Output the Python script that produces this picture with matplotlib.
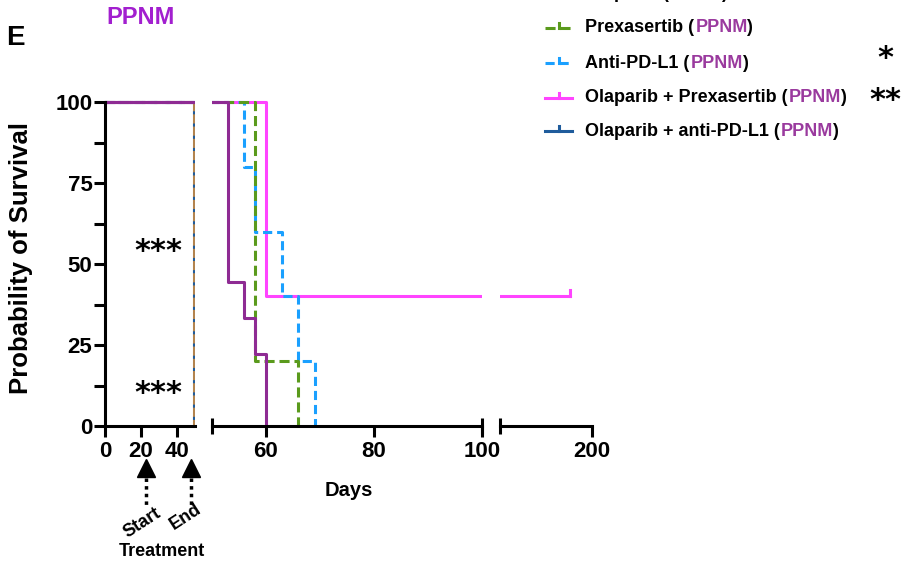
import matplotlib
matplotlib.use("Agg")
import matplotlib.pyplot as plt
import matplotlib.transforms as mtransforms
from matplotlib.lines import Line2D
from matplotlib.patches import Rectangle

plt.rcParams['font.family'] = ['Liberation Sans', 'DejaVu Sans']
plt.rcParams['font.weight'] = 'bold'
plt.rcParams['axes.labelweight'] = 'bold'

# Kaplan-Meier steps (days, % surviving)
vehicle_days = [0, 53, 56, 58, 60]
vehicle_surv = [100, 44.4, 33.3, 22.2, 0]
olaparib_days = [0, 49.5]
olaparib_surv = [100, 0]
prex_days = [0, 58, 66]
prex_surv = [100, 20, 0]
pdl1_days = [0, 56, 58, 63, 66, 69]
pdl1_surv = [100, 80, 60, 40, 20, 0]
olap_prex_days = [0, 60, 176]
olap_prex_surv = [100, 40, 40]
olap_pdl1_days = [0, 49.5]
olap_pdl1_surv = [100, 0]

# censored points
censor_days = [176]
censor_surv = [40]

legend_names = ["Olaparib", "Prexasertib", "Anti-PD-L1",
                "Olaparib + Prexasertib", "Olaparib + anti-PD-L1"]
legend_stars = ["", "", "*", "**", ""]

PURPLE = '#8e2b93'
BROWN = '#b3844f'
DKBLUE = '#1f5c9c'
GREEN = '#5a9a1c'
LTBLUE = '#1aa0ff'
MAGENTA = '#ff44ff'
TXTPURPLE = '#9a3a9e'

W, H = 903, 566
fig = plt.figure(figsize=(W / 100, H / 100), dpi=100)


def fx(px):
    return px / W


def fy(py):
    return 1 - py / H


bottom = fy(426)
height = 324 / H
ax1 = fig.add_axes([fx(105), bottom, 90 / W, height])
ax2 = fig.add_axes([fx(212), bottom, 270 / W, height])
ax3 = fig.add_axes([fx(500), bottom, 92 / W, height])

series = [
    (olaparib_days, olaparib_surv, BROWN, '-'),
    (olap_pdl1_days, olap_pdl1_surv, DKBLUE, (0, (1, 3))),
    (olap_prex_days, olap_prex_surv, MAGENTA, '-'),
    (pdl1_days, pdl1_surv, LTBLUE, (0, (3, 1.6))),
    (prex_days, prex_surv, GREEN, (0, (3.3, 1.6))),
    (vehicle_days, vehicle_surv, PURPLE, '-'),
]

lw = 2.2
for ax, xl in [(ax1, (0, 50)), (ax2, (50, 100)), (ax3, (100, 200))]:
    clip = Rectangle((0, -0.05), 1, 1.1, transform=ax.transAxes)
    for d, s, c, ls in series:
        ln, = ax.step(d, s, where='post', color=c, lw=lw, linestyle=ls)
        ln.set_clip_path(clip)
    cen, = ax.plot([censor_days[0], censor_days[0]], [censor_surv[0], censor_surv[0] + 2],
                   color=MAGENTA, lw=lw)
    cen.set_clip_path(clip)
    ax.set_xlim(*xl)
    ax.set_ylim(0, 100)
    for sp in ['top', 'right']:
        ax.spines[sp].set_visible(False)
    for sp in ['left', 'bottom']:
        ax.spines[sp].set_linewidth(2.2)
    ax.tick_params(direction='out', length=8, width=2.2, labelsize=16, pad=3)
    ax.set_facecolor('none')

ax1.set_xticks([0, 20, 40])
ax1.set_yticks([0, 25, 50, 75, 100])
ax1.set_yticks([12.5, 37.5, 62.5, 87.5], minor=True)
ax1.tick_params(axis='y', which='both', length=8, width=2.2, pad=1)
ax1.set_ylabel('Probability of Survival', fontsize=18.5, fontweight='bold')
ax1.yaxis.set_label_coords(-0.8, 0.52)

ax2.spines['left'].set_visible(False)
ax2.set_yticks([])
ax2.set_xticks([60, 80, 100])
ax3.spines['left'].set_visible(False)
ax3.set_yticks([])
ax3.set_xticks([200])

# break caps on the x axis
for ax, xv in [(ax2, 50), (ax2, 100), (ax3, 100)]:
    ax.plot([xv], [0], marker='|', markersize=12, mew=2.2, color='black', clip_on=False)

# significance stars inside the plot
for yv in [54, 10]:
    ax1.text(29.5, yv, '***', ha='center', va='center', fontsize=22, family='DejaVu Sans',
             fontweight='bold')

fig.text(fx(349), fy(490), 'Days', ha='center', va='center', fontsize=14.5)
fig.text(fx(141), fy(17), 'PPNM', ha='center', va='center', fontsize=17, color='#a21fcf')
fig.text(fx(15), fy(38), 'E', ha='center', va='center', fontsize=20)

# legend drawn by hand so "PPNM" can be coloured
renderer = fig.canvas.get_renderer()


def text_width(s, size):
    t = fig.text(0, 0, s, fontsize=size)
    w = t.get_window_extent(renderer).width
    t.remove()
    return w


leg_colors = [BROWN, GREEN, LTBLUE, MAGENTA, DKBLUE]
leg_styles = ['-', (0, (3.3, 1.6)), (0, (3, 1.6)), '-', '-']
leg_rows = [-6, 28, 63, 98, 131]
star_rows = [0, 0, 58, 101, 0]
fs = 13
for name, c, ls, py, star, sy in zip(legend_names, leg_colors, leg_styles, leg_rows,
                                     legend_stars, star_rows):
    fig.add_artist(Line2D([fx(545), fx(572)], [fy(py), fy(py)], color=c, lw=lw, linestyle=ls))
    fig.add_artist(Line2D([fx(558.5), fx(558.5)], [fy(py), fy(py - 5)], color=c, lw=lw))
    x0 = 585
    pre = name + ' ('
    w_pre = text_width(pre, fs)
    w_full = text_width(pre + 'PPNM)', fs)
    fig.text(fx(x0), fy(py), pre, ha='left', va='center', fontsize=fs)
    fig.text(fx(x0 + w_pre + 1.5), fy(py), 'PPNM', ha='left', va='center', fontsize=fs,
             color=TXTPURPLE)
    fig.text(fx(x0 + w_full), fy(py), ')', ha='right', va='center', fontsize=fs)
    if star:
        fig.text(fx(885), fy(sy), star, ha='center', va='center', fontsize=22,
                 family='DejaVu Sans', fontweight='bold')

# treatment start / end arrows below the first segment
trans = mtransforms.blended_transform_factory(ax1.transData, fig.transFigure)
for xd in [23, 48]:
    fig.add_artist(Line2D([xd, xd], [fy(478), fy(508)], transform=trans, color='black',
                          lw=2.5, linestyle=(0, (1, 1.2))))
    fig.add_artist(Line2D([xd], [fy(468)], transform=trans, marker='^', markersize=13,
                          color='black', linestyle='none'))
fig.text(fx(142), fy(523), 'Start', ha='center', va='center', rotation=33, fontsize=13)
fig.text(fx(186), fy(517), 'End', ha='center', va='center', rotation=33, fontsize=13)
fig.text(fx(162), fy(552), 'Treatment', ha='center', va='center', fontsize=13)

fig.savefig('out.png', dpi=100)
